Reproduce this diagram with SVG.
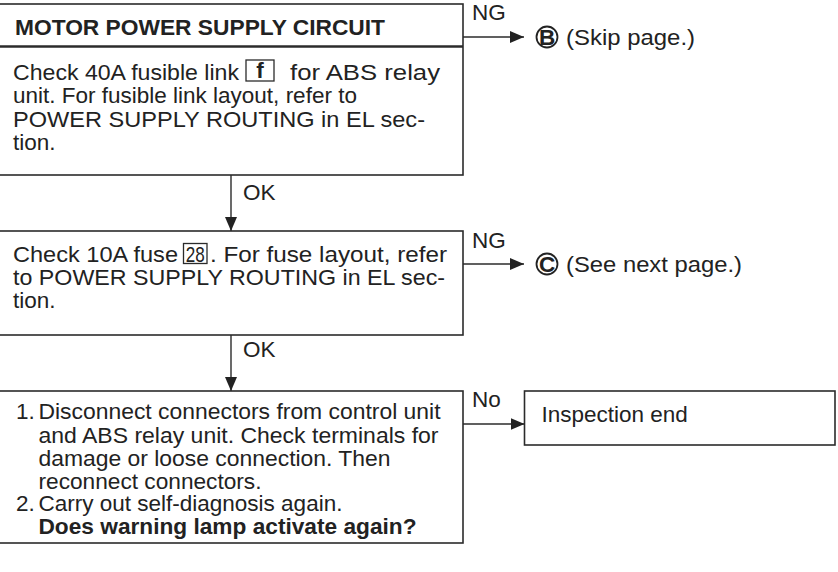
<svg xmlns="http://www.w3.org/2000/svg" width="838" height="572" viewBox="0 0 838 572">
  <style>
    .box { fill: #fff; stroke: #2b2b2b; stroke-width: 1.6; }
    .line { fill: none; stroke: #2b2b2b; stroke-width: 1.4; }
    .t { font-family: "Liberation Sans", Arial, sans-serif; font-size: 22.5px; fill: #222; }
    .b { font-weight: bold; }
    .ref { fill: none; stroke: #2b2b2b; stroke-width: 1.3; }
    .circ { fill: none; stroke: #222; stroke-width: 1.8; }
  </style>
  <defs>
    <marker id="arrow" markerWidth="14" markerHeight="12" refX="14" refY="6" orient="auto" markerUnits="userSpaceOnUse">
      <path d="M0,0 L14,6 L0,12 Z" fill="#222"/>
    </marker>
  </defs>
  <rect width="838" height="572" fill="#fff"/>

  <!-- Motor power supply check -->
  <g id="node-motor-power">
    <rect class="box" x="-2" y="4" width="465" height="171"/>
    <line x1="-2" y1="46.5" x2="463" y2="46.5" stroke="#2b2b2b" stroke-width="2.4"/>
    <text class="t b" x="15" y="35" textLength="370" lengthAdjust="spacingAndGlyphs">MOTOR POWER SUPPLY CIRCUIT</text>
    <text class="t" x="13" y="80" textLength="226" lengthAdjust="spacingAndGlyphs">Check 40A fusible link</text>
    <rect class="ref" x="246" y="60" width="28" height="21"/>
    <text class="t b" x="260" y="78" text-anchor="middle" font-size="21">f</text>
    <text class="t" x="290" y="80" textLength="150" lengthAdjust="spacingAndGlyphs">for ABS relay</text>
    <text class="t" x="13" y="103.3">unit. For fusible link layout, refer to</text>
    <text class="t" x="13" y="126.6" textLength="412" lengthAdjust="spacingAndGlyphs">POWER SUPPLY ROUTING in EL sec-</text>
    <text class="t" x="13" y="150">tion.</text>
  </g>

  <!-- 10A fuse check -->
  <g id="node-fuse">
    <rect class="box" x="-2" y="231" width="465" height="104"/>
    <text class="t" x="13" y="261.7" textLength="165" lengthAdjust="spacingAndGlyphs">Check 10A fuse</text>
    <rect class="ref" x="183.5" y="243.5" width="23.5" height="20"/>
    <text class="t" x="195.3" y="261.5" text-anchor="middle" font-size="21" textLength="19" lengthAdjust="spacingAndGlyphs">28</text>
    <text class="t" x="210" y="261.7" textLength="237" lengthAdjust="spacingAndGlyphs">. For fuse layout, refer</text>
    <text class="t" x="13" y="285" textLength="432" lengthAdjust="spacingAndGlyphs">to POWER SUPPLY ROUTING in EL sec-</text>
    <text class="t" x="13" y="308.3">tion.</text>
  </g>

  <!-- Connector inspection and self-diagnosis -->
  <g id="node-connectors">
    <rect class="box" x="-2" y="391" width="465" height="152"/>
    <text class="t" x="16" y="419.3">1.</text>
    <text class="t" x="38.5" y="419.3" textLength="402" lengthAdjust="spacingAndGlyphs">Disconnect connectors from control unit</text>
    <text class="t" x="38.5" y="442.6" textLength="400" lengthAdjust="spacingAndGlyphs">and ABS relay unit. Check terminals for</text>
    <text class="t" x="38.5" y="465.6" textLength="352" lengthAdjust="spacingAndGlyphs">damage or loose connection. Then</text>
    <text class="t" x="38.5" y="488.6" textLength="223" lengthAdjust="spacingAndGlyphs">reconnect connectors.</text>
    <text class="t" x="16" y="511.3">2.</text>
    <text class="t" x="38.5" y="511.3">Carry out self-diagnosis again.</text>
    <text class="t b" x="38.5" y="534.3" textLength="378" lengthAdjust="spacingAndGlyphs">Does warning lamp activate again?</text>
  </g>

  <!-- Inspection end -->
  <g id="node-end">
    <rect class="box" x="524.5" y="391" width="310.5" height="54"/>
    <text class="t" x="541.5" y="421.7">Inspection end</text>
  </g>

  <!-- Off-page reference B -->
  <g id="node-ref-b">
    <circle class="circ" cx="547" cy="37" r="10.5"/>
    <text class="t b" x="547" y="44.5" text-anchor="middle" font-size="20">B</text>
    <text class="t" x="566" y="45" textLength="129" lengthAdjust="spacingAndGlyphs">(Skip page.)</text>
  </g>

  <!-- Off-page reference C -->
  <g id="node-ref-c">
    <circle class="circ" cx="547" cy="264" r="10.5"/>
    <text class="t b" x="547" y="271.5" text-anchor="middle" font-size="20">C</text>
    <text class="t" x="566" y="272" textLength="176" lengthAdjust="spacingAndGlyphs">(See next page.)</text>
  </g>

  <!-- Connectors -->
  <g id="connectors">
    <line class="line" x1="231" y1="175" x2="231" y2="231" marker-end="url(#arrow)"/>
    <text class="t" x="243" y="200">OK</text>
    <line class="line" x1="231" y1="335" x2="231" y2="391" marker-end="url(#arrow)"/>
    <text class="t" x="243" y="357">OK</text>
    <line class="line" x1="463" y1="37" x2="524" y2="37" marker-end="url(#arrow)"/>
    <text class="t" x="472" y="20">NG</text>
    <line class="line" x1="463" y1="264" x2="524" y2="264" marker-end="url(#arrow)"/>
    <text class="t" x="472" y="248">NG</text>
    <line class="line" x1="463" y1="424" x2="524.5" y2="424" marker-end="url(#arrow)"/>
    <text class="t" x="472" y="407">No</text>
  </g>
</svg>
